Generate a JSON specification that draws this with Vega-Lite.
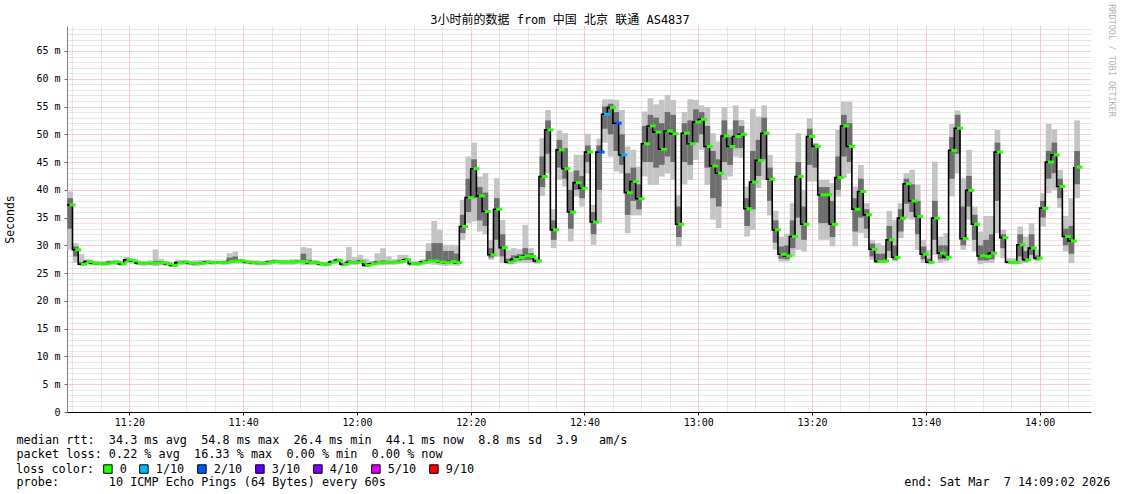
{
"$schema": "https://vega.github.io/schema/vega-lite/v6.json",
"width": 1024, "height": 386,
"autosize": {"type": "none"},
"padding": {"left": 67, "top": 26, "right": 30, "bottom": 82},
"background": "white",
"config": {"view": {"stroke": null}, "font": "DejaVu Sans Mono"},
"title": {"text": "3小时前的数据 from 中国 北京 联通 AS4837", "font": "DejaVu Sans Mono, Noto Sans CJK SC", "fontSize": 12, "fontWeight": "normal", "anchor": "middle", "frame": "group", "dx": -19, "dy": 21, "offset": -2, "color": "#000"},
"data": {"values": [
{"t":"2026/03/07 11:09","lo":29.2,"q1":33.0,"med":37.3,"q3":38.5,"hi":39.7,"loss":"0"},
{"t":"2026/03/07 11:10","lo":26.9,"q1":28.0,"med":29.2,"q3":29.8,"hi":30.4,"loss":"0"},
{"t":"2026/03/07 11:11","lo":26.3,"q1":26.5,"med":26.6,"q3":27.0,"hi":28.4,"loss":"0"},
{"t":"2026/03/07 11:12","lo":26.6,"q1":26.9,"med":27.1,"q3":27.3,"hi":27.5,"loss":"0"},
{"t":"2026/03/07 11:13","lo":26.4,"q1":26.6,"med":26.8,"q3":27.0,"hi":27.3,"loss":"0"},
{"t":"2026/03/07 11:14","lo":26.4,"q1":26.6,"med":26.7,"q3":26.9,"hi":27.2,"loss":"0"},
{"t":"2026/03/07 11:15","lo":26.3,"q1":26.5,"med":26.7,"q3":26.9,"hi":27.2,"loss":"0"},
{"t":"2026/03/07 11:16","lo":26.5,"q1":26.7,"med":26.9,"q3":27.1,"hi":27.3,"loss":"0"},
{"t":"2026/03/07 11:17","lo":26.5,"q1":26.8,"med":27.0,"q3":27.2,"hi":27.4,"loss":"0"},
{"t":"2026/03/07 11:18","lo":26.3,"q1":26.5,"med":26.7,"q3":26.9,"hi":27.2,"loss":"0"},
{"t":"2026/03/07 11:19","lo":26.8,"q1":27.1,"med":27.4,"q3":27.6,"hi":27.9,"loss":"0"},
{"t":"2026/03/07 11:20","lo":26.7,"q1":27.0,"med":27.2,"q3":27.4,"hi":27.6,"loss":"0"},
{"t":"2026/03/07 11:21","lo":26.4,"q1":26.6,"med":26.8,"q3":27.0,"hi":27.3,"loss":"0"},
{"t":"2026/03/07 11:22","lo":26.3,"q1":26.6,"med":26.8,"q3":27.0,"hi":27.2,"loss":"0"},
{"t":"2026/03/07 11:23","lo":26.4,"q1":26.6,"med":26.8,"q3":27.0,"hi":27.3,"loss":"0"},
{"t":"2026/03/07 11:24","lo":26.3,"q1":26.6,"med":26.8,"q3":27.2,"hi":29.3,"loss":"0"},
{"t":"2026/03/07 11:25","lo":26.4,"q1":26.7,"med":26.9,"q3":27.1,"hi":27.6,"loss":"0"},
{"t":"2026/03/07 11:26","lo":26.3,"q1":26.5,"med":26.7,"q3":26.9,"hi":27.2,"loss":"0"},
{"t":"2026/03/07 11:27","lo":26.1,"q1":26.3,"med":26.4,"q3":26.6,"hi":26.9,"loss":"0"},
{"t":"2026/03/07 11:28","lo":26.5,"q1":26.7,"med":26.9,"q3":27.1,"hi":27.4,"loss":"0"},
{"t":"2026/03/07 11:29","lo":26.5,"q1":26.8,"med":27.0,"q3":27.2,"hi":27.4,"loss":"0"},
{"t":"2026/03/07 11:30","lo":26.4,"q1":26.6,"med":26.8,"q3":27.0,"hi":27.2,"loss":"0"},
{"t":"2026/03/07 11:31","lo":26.3,"q1":26.5,"med":26.7,"q3":26.9,"hi":27.3,"loss":"0"},
{"t":"2026/03/07 11:32","lo":26.4,"q1":26.6,"med":26.8,"q3":27.0,"hi":27.4,"loss":"0"},
{"t":"2026/03/07 11:33","lo":26.6,"q1":26.8,"med":27.0,"q3":27.2,"hi":27.4,"loss":"0"},
{"t":"2026/03/07 11:34","lo":26.5,"q1":26.7,"med":26.9,"q3":27.1,"hi":27.3,"loss":"0"},
{"t":"2026/03/07 11:35","lo":26.6,"q1":26.7,"med":26.9,"q3":27.1,"hi":27.2,"loss":"0"},
{"t":"2026/03/07 11:36","lo":26.5,"q1":26.7,"med":26.9,"q3":27.1,"hi":27.3,"loss":"0"},
{"t":"2026/03/07 11:37","lo":26.6,"q1":26.9,"med":27.1,"q3":27.8,"hi":28.6,"loss":"0"},
{"t":"2026/03/07 11:38","lo":26.7,"q1":27.0,"med":27.2,"q3":28.0,"hi":28.9,"loss":"0"},
{"t":"2026/03/07 11:39","lo":26.7,"q1":27.0,"med":27.2,"q3":27.4,"hi":27.6,"loss":"0"},
{"t":"2026/03/07 11:40","lo":26.6,"q1":26.8,"med":27.0,"q3":27.2,"hi":27.4,"loss":"0"},
{"t":"2026/03/07 11:41","lo":26.5,"q1":26.7,"med":26.9,"q3":27.1,"hi":27.3,"loss":"0"},
{"t":"2026/03/07 11:42","lo":26.4,"q1":26.6,"med":26.8,"q3":27.0,"hi":27.3,"loss":"0"},
{"t":"2026/03/07 11:43","lo":26.4,"q1":26.6,"med":26.8,"q3":27.0,"hi":27.2,"loss":"0"},
{"t":"2026/03/07 11:44","lo":26.5,"q1":26.8,"med":27.0,"q3":27.2,"hi":27.4,"loss":"0"},
{"t":"2026/03/07 11:45","lo":26.6,"q1":26.9,"med":27.1,"q3":27.3,"hi":27.5,"loss":"0"},
{"t":"2026/03/07 11:46","lo":26.5,"q1":26.8,"med":27.0,"q3":27.2,"hi":27.4,"loss":"0"},
{"t":"2026/03/07 11:47","lo":26.5,"q1":26.8,"med":27.0,"q3":27.2,"hi":27.4,"loss":"0"},
{"t":"2026/03/07 11:48","lo":26.5,"q1":26.8,"med":27.0,"q3":27.2,"hi":27.5,"loss":"0"},
{"t":"2026/03/07 11:49","lo":26.6,"q1":26.9,"med":27.1,"q3":27.3,"hi":27.5,"loss":"0"},
{"t":"2026/03/07 11:50","lo":26.4,"q1":26.8,"med":27.1,"q3":28.5,"hi":29.7,"loss":"0"},
{"t":"2026/03/07 11:51","lo":26.4,"q1":26.7,"med":26.9,"q3":27.4,"hi":29.5,"loss":"0"},
{"t":"2026/03/07 11:52","lo":26.5,"q1":26.7,"med":26.9,"q3":27.1,"hi":27.4,"loss":"0"},
{"t":"2026/03/07 11:53","lo":26.3,"q1":26.5,"med":26.7,"q3":26.9,"hi":27.1,"loss":"0"},
{"t":"2026/03/07 11:54","lo":26.2,"q1":26.4,"med":26.6,"q3":26.8,"hi":27.0,"loss":"0"},
{"t":"2026/03/07 11:55","lo":26.6,"q1":26.8,"med":27.0,"q3":27.2,"hi":27.4,"loss":"0"},
{"t":"2026/03/07 11:56","lo":26.8,"q1":27.0,"med":27.3,"q3":27.5,"hi":27.7,"loss":"0"},
{"t":"2026/03/07 11:57","lo":26.2,"q1":26.4,"med":26.6,"q3":26.8,"hi":27.2,"loss":"0"},
{"t":"2026/03/07 11:58","lo":26.4,"q1":26.7,"med":26.9,"q3":27.3,"hi":29.7,"loss":"0"},
{"t":"2026/03/07 11:59","lo":26.5,"q1":26.7,"med":26.9,"q3":27.2,"hi":27.9,"loss":"0"},
{"t":"2026/03/07 12:00","lo":26.6,"q1":26.9,"med":27.1,"q3":27.4,"hi":28.3,"loss":"0"},
{"t":"2026/03/07 12:01","lo":26.1,"q1":26.3,"med":26.4,"q3":26.8,"hi":27.6,"loss":"0"},
{"t":"2026/03/07 12:02","lo":26.3,"q1":26.5,"med":26.7,"q3":26.9,"hi":27.2,"loss":"0"},
{"t":"2026/03/07 12:03","lo":26.4,"q1":26.7,"med":26.9,"q3":27.2,"hi":28.6,"loss":"0"},
{"t":"2026/03/07 12:04","lo":26.4,"q1":26.7,"med":26.9,"q3":27.3,"hi":29.5,"loss":"0"},
{"t":"2026/03/07 12:05","lo":26.5,"q1":26.7,"med":26.9,"q3":27.2,"hi":28.0,"loss":"0"},
{"t":"2026/03/07 12:06","lo":26.5,"q1":26.8,"med":27.0,"q3":27.2,"hi":27.5,"loss":"0"},
{"t":"2026/03/07 12:07","lo":26.6,"q1":26.9,"med":27.1,"q3":27.4,"hi":28.3,"loss":"0"},
{"t":"2026/03/07 12:08","lo":26.9,"q1":27.2,"med":27.4,"q3":27.7,"hi":28.3,"loss":"0"},
{"t":"2026/03/07 12:09","lo":26.3,"q1":26.5,"med":26.7,"q3":26.9,"hi":27.2,"loss":"0"},
{"t":"2026/03/07 12:10","lo":26.3,"q1":26.5,"med":26.7,"q3":26.9,"hi":27.2,"loss":"0"},
{"t":"2026/03/07 12:11","lo":26.5,"q1":26.8,"med":27.0,"q3":27.2,"hi":27.5,"loss":"0"},
{"t":"2026/03/07 12:12","lo":26.6,"q1":27.0,"med":27.2,"q3":29.0,"hi":30.4,"loss":"0"},
{"t":"2026/03/07 12:13","lo":26.5,"q1":27.0,"med":27.2,"q3":30.4,"hi":34.4,"loss":"0"},
{"t":"2026/03/07 12:14","lo":26.4,"q1":26.8,"med":27.0,"q3":30.4,"hi":32.8,"loss":"0"},
{"t":"2026/03/07 12:15","lo":26.3,"q1":26.7,"med":26.9,"q3":29.0,"hi":30.1,"loss":"0"},
{"t":"2026/03/07 12:16","lo":26.4,"q1":26.9,"med":27.1,"q3":29.0,"hi":30.1,"loss":"0"},
{"t":"2026/03/07 12:17","lo":26.3,"q1":26.7,"med":26.9,"q3":28.5,"hi":30.1,"loss":"0"},
{"t":"2026/03/07 12:18","lo":31.0,"q1":32.2,"med":33.4,"q3":35.5,"hi":38.2,"loss":"0"},
{"t":"2026/03/07 12:19","lo":34.0,"q1":36.0,"med":38.6,"q3":42.0,"hi":46.0,"loss":"0"},
{"t":"2026/03/07 12:20","lo":34.3,"q1":38.5,"med":43.8,"q3":45.5,"hi":48.5,"loss":"0"},
{"t":"2026/03/07 12:21","lo":32.5,"q1":34.5,"med":38.9,"q3":40.5,"hi":42.4,"loss":"0"},
{"t":"2026/03/07 12:22","lo":32.0,"q1":33.5,"med":36.1,"q3":39.5,"hi":43.0,"loss":"0"},
{"t":"2026/03/07 12:23","lo":27.4,"q1":27.8,"med":28.3,"q3":29.5,"hi":31.0,"loss":"0"},
{"t":"2026/03/07 12:24","lo":28.0,"q1":31.0,"med":36.5,"q3":38.5,"hi":42.1,"loss":"0"},
{"t":"2026/03/07 12:25","lo":26.8,"q1":28.0,"med":29.6,"q3":32.0,"hi":34.6,"loss":"0"},
{"t":"2026/03/07 12:26","lo":26.6,"q1":26.8,"med":26.95,"q3":27.6,"hi":29.2,"loss":"0"},
{"t":"2026/03/07 12:27","lo":26.6,"q1":27.1,"med":27.5,"q3":28.2,"hi":29.5,"loss":"0"},
{"t":"2026/03/07 12:28","lo":26.8,"q1":27.3,"med":27.85,"q3":28.4,"hi":29.3,"loss":"0"},
{"t":"2026/03/07 12:29","lo":26.8,"q1":27.4,"med":28.1,"q3":29.5,"hi":33.7,"loss":"0"},
{"t":"2026/03/07 12:30","lo":26.8,"q1":27.4,"med":28.0,"q3":28.6,"hi":29.5,"loss":"0"},
{"t":"2026/03/07 12:31","lo":26.7,"q1":26.9,"med":27.2,"q3":27.5,"hi":27.9,"loss":"0"},
{"t":"2026/03/07 12:32","lo":38.9,"q1":40.5,"med":42.4,"q3":46.0,"hi":49.3,"loss":"0"},
{"t":"2026/03/07 12:33","lo":43.0,"q1":46.5,"med":50.8,"q3":52.5,"hi":54.4,"loss":"0"},
{"t":"2026/03/07 12:34","lo":29.5,"q1":31.0,"med":32.8,"q3":34.5,"hi":36.5,"loss":"0"},
{"t":"2026/03/07 12:35","lo":41.8,"q1":44.0,"med":47.2,"q3":49.0,"hi":50.7,"loss":"0"},
{"t":"2026/03/07 12:36","lo":40.6,"q1":42.0,"med":43.8,"q3":47.5,"hi":50.2,"loss":"0"},
{"t":"2026/03/07 12:37","lo":30.7,"q1":33.0,"med":36.0,"q3":40.0,"hi":43.3,"loss":"0"},
{"t":"2026/03/07 12:38","lo":38.8,"q1":40.0,"med":41.3,"q3":43.5,"hi":46.3,"loss":"0"},
{"t":"2026/03/07 12:39","lo":37.0,"q1":38.5,"med":40.3,"q3":42.5,"hi":46.3,"loss":"0"},
{"t":"2026/03/07 12:40","lo":43.0,"q1":45.0,"med":46.8,"q3":48.0,"hi":50.1,"loss":"0"},
{"t":"2026/03/07 12:41","lo":30.1,"q1":32.0,"med":34.2,"q3":36.0,"hi":37.3,"loss":"0"},
{"t":"2026/03/07 12:42","lo":34.0,"q1":40.0,"med":46.8,"q3":48.0,"hi":49.2,"loss":"2/10"},
{"t":"2026/03/07 12:43","lo":48.5,"q1":51.0,"med":53.6,"q3":55.0,"hi":56.3,"loss":"1/10"},
{"t":"2026/03/07 12:44","lo":46.0,"q1":50.0,"med":54.8,"q3":55.5,"hi":56.3,"loss":"0"},
{"t":"2026/03/07 12:45","lo":43.3,"q1":47.0,"med":52.0,"q3":54.0,"hi":56.2,"loss":"2/10"},
{"t":"2026/03/07 12:46","lo":43.0,"q1":44.5,"med":46.3,"q3":50.0,"hi":54.4,"loss":"1/10"},
{"t":"2026/03/07 12:47","lo":32.2,"q1":35.5,"med":39.5,"q3":43.0,"hi":47.8,"loss":"0"},
{"t":"2026/03/07 12:48","lo":35.4,"q1":38.0,"med":41.5,"q3":44.0,"hi":47.2,"loss":"0"},
{"t":"2026/03/07 12:49","lo":35.4,"q1":36.5,"med":38.4,"q3":41.0,"hi":44.2,"loss":"0"},
{"t":"2026/03/07 12:50","lo":42.4,"q1":45.0,"med":48.3,"q3":51.5,"hi":54.1,"loss":"0"},
{"t":"2026/03/07 12:51","lo":40.9,"q1":45.0,"med":51.5,"q3":53.5,"hi":56.5,"loss":"0"},
{"t":"2026/03/07 12:52","lo":40.9,"q1":44.0,"med":50.4,"q3":53.0,"hi":55.4,"loss":"0"},
{"t":"2026/03/07 12:53","lo":42.4,"q1":44.5,"med":47.3,"q3":52.0,"hi":56.2,"loss":"0"},
{"t":"2026/03/07 12:54","lo":43.0,"q1":46.0,"med":50.6,"q3":54.0,"hi":57.1,"loss":"0"},
{"t":"2026/03/07 12:55","lo":41.8,"q1":45.0,"med":50.1,"q3":53.5,"hi":56.2,"loss":"0"},
{"t":"2026/03/07 12:56","lo":29.8,"q1":31.5,"med":33.8,"q3":37.0,"hi":39.1,"loss":"0"},
{"t":"2026/03/07 12:57","lo":41.0,"q1":45.0,"med":50.2,"q3":52.0,"hi":54.0,"loss":"0"},
{"t":"2026/03/07 12:58","lo":41.8,"q1":44.5,"med":48.3,"q3":52.5,"hi":56.3,"loss":"0"},
{"t":"2026/03/07 12:59","lo":45.4,"q1":48.5,"med":52.2,"q3":54.5,"hi":56.2,"loss":"0"},
{"t":"2026/03/07 13:00","lo":47.2,"q1":50.0,"med":52.7,"q3":54.0,"hi":55.2,"loss":"0"},
{"t":"2026/03/07 13:01","lo":40.9,"q1":44.0,"med":47.8,"q3":51.5,"hi":54.9,"loss":"0"},
{"t":"2026/03/07 13:02","lo":34.6,"q1":38.5,"med":44.3,"q3":47.0,"hi":50.2,"loss":"0"},
{"t":"2026/03/07 13:03","lo":33.1,"q1":37.0,"med":43.0,"q3":45.5,"hi":48.7,"loss":"0"},
{"t":"2026/03/07 13:04","lo":41.8,"q1":45.0,"med":49.7,"q3":52.5,"hi":54.9,"loss":"0"},
{"t":"2026/03/07 13:05","lo":42.4,"q1":44.5,"med":47.8,"q3":49.5,"hi":50.8,"loss":"0"},
{"t":"2026/03/07 13:06","lo":46.0,"q1":47.5,"med":49.6,"q3":52.5,"hi":55.2,"loss":"0"},
{"t":"2026/03/07 13:07","lo":45.7,"q1":47.5,"med":50.0,"q3":51.5,"hi":52.6,"loss":"0"},
{"t":"2026/03/07 13:08","lo":31.6,"q1":33.5,"med":36.6,"q3":38.5,"hi":40.6,"loss":"0"},
{"t":"2026/03/07 13:09","lo":32.8,"q1":36.5,"med":41.4,"q3":47.0,"hi":54.6,"loss":"0"},
{"t":"2026/03/07 13:10","lo":40.3,"q1":42.5,"med":45.3,"q3":49.0,"hi":53.2,"loss":"0"},
{"t":"2026/03/07 13:11","lo":41.8,"q1":45.5,"med":50.2,"q3":53.0,"hi":55.2,"loss":"0"},
{"t":"2026/03/07 13:12","lo":35.4,"q1":38.0,"med":41.9,"q3":44.0,"hi":46.3,"loss":"0"},
{"t":"2026/03/07 13:13","lo":29.2,"q1":30.5,"med":32.8,"q3":34.5,"hi":36.2,"loss":"0"},
{"t":"2026/03/07 13:14","lo":27.1,"q1":27.6,"med":28.4,"q3":29.8,"hi":31.6,"loss":"0"},
{"t":"2026/03/07 13:15","lo":27.1,"q1":27.5,"med":28.1,"q3":30.0,"hi":32.1,"loss":"0"},
{"t":"2026/03/07 13:16","lo":28.0,"q1":29.5,"med":31.6,"q3":34.5,"hi":37.6,"loss":"0"},
{"t":"2026/03/07 13:17","lo":29.2,"q1":35.0,"med":42.4,"q3":45.0,"hi":50.2,"loss":"0"},
{"t":"2026/03/07 13:18","lo":28.9,"q1":31.0,"med":33.8,"q3":37.0,"hi":40.0,"loss":"0"},
{"t":"2026/03/07 13:19","lo":41.5,"q1":44.5,"med":49.6,"q3":51.0,"hi":52.9,"loss":"0"},
{"t":"2026/03/07 13:20","lo":41.5,"q1":44.0,"med":47.8,"q3":48.2,"hi":48.5,"loss":"0"},
{"t":"2026/03/07 13:21","lo":31.0,"q1":34.0,"med":39.1,"q3":40.5,"hi":41.8,"loss":"0"},
{"t":"2026/03/07 13:22","lo":31.0,"q1":34.0,"med":39.1,"q3":40.5,"hi":41.8,"loss":"0"},
{"t":"2026/03/07 13:23","lo":29.8,"q1":31.5,"med":33.8,"q3":38.0,"hi":41.2,"loss":"0"},
{"t":"2026/03/07 13:24","lo":38.8,"q1":40.0,"med":42.2,"q3":46.0,"hi":50.8,"loss":"0"},
{"t":"2026/03/07 13:25","lo":42.1,"q1":46.0,"med":51.5,"q3":53.5,"hi":55.9,"loss":"0"},
{"t":"2026/03/07 13:26","lo":43.0,"q1":45.0,"med":47.8,"q3":52.0,"hi":55.9,"loss":"0"},
{"t":"2026/03/07 13:27","lo":29.8,"q1":32.5,"med":36.5,"q3":38.5,"hi":40.6,"loss":"0"},
{"t":"2026/03/07 13:28","lo":32.2,"q1":35.0,"med":39.7,"q3":42.0,"hi":44.5,"loss":"0"},
{"t":"2026/03/07 13:29","lo":31.3,"q1":33.0,"med":35.5,"q3":36.5,"hi":37.6,"loss":"0"},
{"t":"2026/03/07 13:30","lo":27.4,"q1":28.0,"med":29.3,"q3":30.3,"hi":31.0,"loss":"0"},
{"t":"2026/03/07 13:31","lo":26.8,"q1":26.9,"med":27.1,"q3":28.5,"hi":30.4,"loss":"0"},
{"t":"2026/03/07 13:32","lo":26.8,"q1":27.0,"med":27.2,"q3":28.5,"hi":30.0,"loss":"0"},
{"t":"2026/03/07 13:33","lo":27.7,"q1":29.0,"med":31.0,"q3":33.5,"hi":36.2,"loss":"0"},
{"t":"2026/03/07 13:34","lo":27.1,"q1":27.4,"med":27.85,"q3":30.0,"hi":34.6,"loss":"0"},
{"t":"2026/03/07 13:35","lo":31.3,"q1":32.5,"med":34.9,"q3":36.5,"hi":37.6,"loss":"0"},
{"t":"2026/03/07 13:36","lo":34.9,"q1":37.5,"med":41.1,"q3":42.0,"hi":43.0,"loss":"0"},
{"t":"2026/03/07 13:37","lo":34.6,"q1":36.0,"med":38.0,"q3":41.0,"hi":43.6,"loss":"0"},
{"t":"2026/03/07 13:38","lo":29.2,"q1":32.0,"med":35.2,"q3":38.0,"hi":40.9,"loss":"0"},
{"t":"2026/03/07 13:39","lo":26.8,"q1":27.5,"med":28.4,"q3":29.8,"hi":31.0,"loss":"0"},
{"t":"2026/03/07 13:40","lo":26.6,"q1":26.8,"med":26.95,"q3":27.6,"hi":29.2,"loss":"0"},
{"t":"2026/03/07 13:41","lo":28.3,"q1":31.0,"med":34.9,"q3":38.0,"hi":45.1,"loss":"0"},
{"t":"2026/03/07 13:42","lo":26.8,"q1":27.5,"med":28.6,"q3":30.0,"hi":31.6,"loss":"0"},
{"t":"2026/03/07 13:43","lo":27.1,"q1":27.5,"med":27.85,"q3":30.0,"hi":32.2,"loss":"0"},
{"t":"2026/03/07 13:44","lo":38.8,"q1":42.0,"med":47.1,"q3":49.5,"hi":51.9,"loss":"0"},
{"t":"2026/03/07 13:45","lo":43.0,"q1":46.5,"med":51.1,"q3":53.5,"hi":54.3,"loss":"0"},
{"t":"2026/03/07 13:46","lo":29.2,"q1":30.0,"med":31.2,"q3":37.0,"hi":42.1,"loss":"0"},
{"t":"2026/03/07 13:47","lo":34.6,"q1":37.0,"med":39.9,"q3":42.5,"hi":47.2,"loss":"0"},
{"t":"2026/03/07 13:48","lo":28.9,"q1":31.0,"med":33.8,"q3":35.5,"hi":37.0,"loss":"0"},
{"t":"2026/03/07 13:49","lo":26.6,"q1":27.3,"med":28.1,"q3":30.0,"hi":32.5,"loss":"0"},
{"t":"2026/03/07 13:50","lo":26.8,"q1":27.3,"med":28.0,"q3":31.0,"hi":35.3,"loss":"0"},
{"t":"2026/03/07 13:51","lo":26.8,"q1":27.5,"med":28.6,"q3":32.0,"hi":35.3,"loss":"0"},
{"t":"2026/03/07 13:52","lo":32.2,"q1":38.0,"med":46.8,"q3":48.5,"hi":50.8,"loss":"0"},
{"t":"2026/03/07 13:53","lo":27.7,"q1":29.5,"med":31.4,"q3":32.0,"hi":32.8,"loss":"0"},
{"t":"2026/03/07 13:54","lo":26.6,"q1":26.8,"med":26.95,"q3":27.2,"hi":27.7,"loss":"0"},
{"t":"2026/03/07 13:55","lo":26.6,"q1":26.8,"med":26.95,"q3":27.2,"hi":27.7,"loss":"0"},
{"t":"2026/03/07 13:56","lo":26.6,"q1":28.0,"med":30.1,"q3":32.0,"hi":33.4,"loss":"0"},
{"t":"2026/03/07 13:57","lo":26.8,"q1":27.1,"med":27.4,"q3":29.0,"hi":31.6,"loss":"0"},
{"t":"2026/03/07 13:58","lo":27.7,"q1":28.3,"med":29.5,"q3":32.0,"hi":34.0,"loss":"0"},
{"t":"2026/03/07 13:59","lo":27.1,"q1":27.4,"med":27.7,"q3":28.2,"hi":29.2,"loss":"0"},
{"t":"2026/03/07 14:00","lo":33.4,"q1":35.0,"med":36.7,"q3":38.0,"hi":39.4,"loss":"0"},
{"t":"2026/03/07 14:01","lo":39.4,"q1":42.0,"med":45.0,"q3":47.0,"hi":51.9,"loss":"0"},
{"t":"2026/03/07 14:02","lo":40.0,"q1":43.0,"med":46.3,"q3":48.5,"hi":50.9,"loss":"0"},
{"t":"2026/03/07 14:03","lo":36.7,"q1":38.5,"med":40.6,"q3":42.0,"hi":43.6,"loss":"0"},
{"t":"2026/03/07 14:04","lo":28.9,"q1":30.0,"med":31.6,"q3":33.0,"hi":35.3,"loss":"0"},
{"t":"2026/03/07 14:05","lo":26.8,"q1":28.5,"med":30.8,"q3":33.5,"hi":38.5,"loss":"0"},
{"t":"2026/03/07 14:06","lo":38.5,"q1":41.0,"med":44.1,"q3":47.0,"hi":52.5,"loss":"0"}
]},
"layer": [
{"mark": {"type": "bar", "color": "#c4c4c4", "clip": true, "binSpacing": 0},
 "encoding": {
  "x": {"field": "t", "type": "temporal", "timeUnit": "yearmonthdatehoursminutes",
   "scale": {"domain": [{"year": 2026, "month": 3, "date": 7, "hours": 11, "minutes": 9, "seconds": 2}, {"year": 2026, "month": 3, "date": 7, "hours": 14, "minutes": 9, "seconds": 2}]},
   "axis": {"orient": "bottom", "tickCount": 36,
    "labelExpr": "minutes(datum.value) % 20 == 0 ? timeFormat(datum.value, '%H:%M') : ''",
    "labelFont": "DejaVu Sans Mono", "labelFontSize": 10, "labelColor": "#000", "labelPadding": 2, "labelFlush": false, "labelOverlap": false,
    "tickSize": 3, "tickColor": {"condition": {"test": "minutes(datum.value) % 20 == 0", "value": "#000"}, "value": "transparent"},
    "grid": true, "gridColor": {"condition": {"test": "minutes(datum.value) % 20 == 0", "value": "#f29a9a"}, "value": "#cccccc"}, "gridDash": [1, 1], "gridWidth": 1,
    "domainColor": "#000", "domainWidth": 1,
    "title": ["median rtt:\u00a0\u00a034.3 ms avg\u00a0\u00a054.8 ms max\u00a0\u00a026.4 ms min\u00a0\u00a044.1 ms now\u00a0\u00a08.8 ms sd\u00a0\u00a03.9\u00a0\u00a0\u00a0am/s", "packet loss:\u00a00.22 % avg\u00a0\u00a016.33 % max\u00a0\u00a00.00 % min\u00a0\u00a00.00 % now"],
    "titleFont": "DejaVu Sans Mono", "titleFontSize": 11.8, "titleFontWeight": "normal", "titleColor": "#000",
    "titleAlign": "left", "titleAnchor": "start", "titleBaseline": "alphabetic", "titleX": -51, "titleY": 31, "titleLineHeight": 14}},
  "y": {"field": "lo", "type": "quantitative",
   "scale": {"domain": [0, 69.5], "nice": false, "zero": false},
   "axis": {"orient": "left", "values": [0,1,2,3,4,5,6,7,8,9,10,11,12,13,14,15,16,17,18,19,20,21,22,23,24,25,26,27,28,29,30,31,32,33,34,35,36,37,38,39,40,41,42,43,44,45,46,47,48,49,50,51,52,53,54,55,56,57,58,59,60,61,62,63,64,65,66,67,68,69],
    "labelExpr": "datum.value % 5 == 0 ? (datum.value == 0 ? '0' : datum.value + ' m') : ''",
    "labelFont": "DejaVu Sans Mono", "labelFontSize": 10, "labelColor": "#000", "labelPadding": 4, "labelOverlap": false, "labelFlush": false,
    "tickSize": 3, "tickColor": {"condition": {"test": "datum.value % 5 == 0", "value": "#666"}, "value": "transparent"},
    "grid": true, "gridColor": {"condition": {"test": "datum.value % 5 == 0", "value": "#f29a9a"}, "value": "#cccccc"}, "gridDash": [1, 1], "gridWidth": 1,
    "domainColor": "#808080", "domainWidth": 1,
    "title": "Seconds", "titleFont": "DejaVu Sans Mono", "titleFontSize": 11.5, "titleFontWeight": "normal", "titleColor": "#000",
    "titleX": -57, "titleY": 193, "titleAngle": 270, "titleAlign": "center", "titleBaseline": "middle"}},
  "y2": {"field": "hi"}
 }},
{"mark": {"type": "bar", "color": "#6e6e6e", "clip": true, "binSpacing": 0},
 "encoding": {
  "x": {"field": "t", "type": "temporal", "timeUnit": "yearmonthdatehoursminutes", "axis": null},
  "y": {"field": "q1", "type": "quantitative", "axis": null},
  "y2": {"field": "q3"}
 }},
{"mark": {"type": "line", "interpolate": "step-after", "color": "#000", "strokeWidth": 1.6, "clip": true},
 "encoding": {
  "x": {"field": "t", "type": "temporal", "timeUnit": "yearmonthdatehoursminutes", "axis": null},
  "y": {"field": "med", "type": "quantitative", "axis": null}
 }},
{"mark": {"type": "tick", "orient": "horizontal", "thickness": 3, "size": 6, "xOffset": 2.85, "opacity": 1, "clip": true},
 "encoding": {
  "x": {"field": "t", "type": "temporal", "timeUnit": "yearmonthdatehoursminutes",
   "axis": {"orient": "top", "labels": false, "ticks": false, "domain": false, "grid": false,
    "title": "probe:\u00a0\u00a0\u00a0\u00a0\u00a0\u00a0\u00a010 ICMP Echo Pings (64 Bytes) every 60s\u00a0\u00a0\u00a0\u00a0\u00a0\u00a0\u00a0\u00a0\u00a0\u00a0\u00a0\u00a0\u00a0\u00a0\u00a0\u00a0\u00a0\u00a0\u00a0\u00a0\u00a0\u00a0\u00a0\u00a0\u00a0\u00a0\u00a0\u00a0\u00a0\u00a0\u00a0\u00a0\u00a0\u00a0\u00a0\u00a0\u00a0\u00a0\u00a0\u00a0\u00a0\u00a0\u00a0\u00a0\u00a0\u00a0\u00a0\u00a0\u00a0\u00a0\u00a0\u00a0\u00a0\u00a0\u00a0\u00a0\u00a0\u00a0\u00a0\u00a0\u00a0\u00a0\u00a0\u00a0\u00a0\u00a0\u00a0\u00a0\u00a0\u00a0\u00a0\u00a0\u00a0end: Sat Mar\u00a0\u00a07 14:09:02 2026",
    "titleFont": "DejaVu Sans Mono", "titleFontSize": 11.8, "titleFontWeight": "normal", "titleColor": "#000",
    "titleAlign": "left", "titleAnchor": "start", "titleBaseline": "alphabetic", "titleX": -51, "titleY": 459}},
  "y": {"field": "med", "type": "quantitative",
   "axis": {"orient": "right", "labels": false, "ticks": false, "domain": false, "grid": false,
    "title": "RRDTOOL / TOBI OETIKER", "titleFont": "DejaVu Sans Mono", "titleFontSize": 8.5, "titleFontWeight": "normal", "titleColor": "#b4b4b4",
    "titleAngle": 90, "titleX": 20, "titleY": 34, "titleAlign": "center", "titleBaseline": "middle"}},
  "color": {"field": "loss", "type": "nominal",
   "scale": {"domain": ["0", "1/10", "2/10", "3/10", "4/10", "5/10", "9/10"], "range": ["#26ff00", "#00b8ff", "#0059ff", "#5e00ff", "#7e00ff", "#dd00ff", "#ff0000"]},
   "legend": {"title": "loss color:", "orient": "none", "legendX": -51, "legendY": 437, "direction": "horizontal",
    "titleOrient": "left", "titlePadding": 7, "titleFont": "DejaVu Sans Mono", "titleFontSize": 11.8, "titleFontWeight": "normal", "titleColor": "#000",
    "symbolType": "square", "symbolSize": 72, "symbolStrokeColor": "#000", "symbolStrokeWidth": 1, "symbolOpacity": 1,
    "labelFont": "DejaVu Sans Mono", "labelFontSize": 11.8, "labelColor": "#000", "labelOffset": 6, "columnPadding": 10}}
 }}
],
"resolve": {"axis": {"x": "independent", "y": "independent"}}
}
